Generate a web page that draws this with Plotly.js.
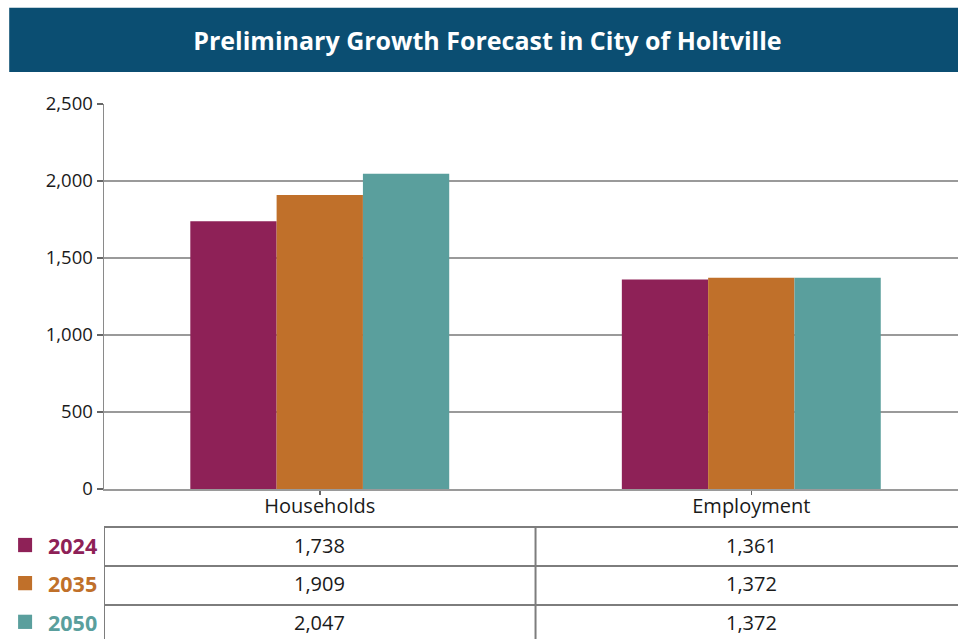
<!DOCTYPE html>
<html>
<head>
<meta charset="utf-8">
<script src="https://cdn.plot.ly/plotly-3.0.1.min.js"></script>
<style>
html,body{margin:0;padding:0;background:#fff;overflow:hidden;}
#chart{width:958px;height:639px;}
</style>
</head>
<body>
<div id="chart"></div>
<script>
const categories = ["Households", "Employment"];
const years = ["2024", "2035", "2050"];
const values2024 = [1738, 1361];
const values2035 = [1909, 1372];
const values2050 = [2047, 1372];
const colors = ["#8e2157", "#c0702a", "#5a9f9d"];
const yTickVals = [0, 500, 1000, 1500, 2000, 2500];
const titleText = "Preliminary Growth Forecast in City of Holtville";

const series = [values2024, values2035, values2050];
const FONT = "'Open Sans', 'Noto Sans', sans-serif";

const traces = series.map((vals, i) => ({
  type: "bar",
  name: years[i],
  x: categories,
  y: vals,
  marker: {color: colors[i], line: {width: 0}},
  hoverinfo: "none"
}));

// table layout (paper coordinates below the plot)
const rowLines = [-0.0987, -0.2, -0.301];
const rowCenters = [-0.1475, -0.2465, -0.347];
const rowHalf = 0.0185;

const shapes = [];
// title banner
shapes.push({type: "rect", xref: "paper", yref: "paper", x0: -0.111, x1: 1.01, y0: 1.083, y1: 1.25,
  fillcolor: "#0b4e72", line: {width: 0}, layer: "below"});
// table horizontal rules
rowLines.forEach(y => shapes.push({type: "line", xref: "paper", yref: "paper", x0: 0, x1: 1.01, y0: y, y1: y,
  line: {color: "#7d7d7d", width: 2}}));
// table vertical rules: left edge and category divider
[-0.5, 0.5].forEach(x => shapes.push({type: "line", xref: "x", yref: "paper", x0: x, x1: x, y0: rowLines[0], y1: -0.42,
  line: {color: "#7d7d7d", width: 2}}));
// legend squares
years.forEach((yr, i) => shapes.push({type: "rect", xref: "paper", yref: "paper",
  x0: -0.1006, x1: -0.0842, y0: rowCenters[i] + 0.002 - rowHalf, y1: rowCenters[i] + 0.002 + rowHalf,
  fillcolor: colors[i], line: {width: 0}}));

const annotations = [];
years.forEach((yr, i) => {
  annotations.push({xref: "paper", yref: "paper", x: -0.006, y: rowCenters[i], xanchor: "right", yanchor: "middle",
    text: "<b>" + yr + "</b>", showarrow: false, font: {family: FONT, size: 21.5, color: colors[i]}});
  categories.forEach((c, j) => {
    annotations.push({xref: "x", yref: "paper", x: c, y: rowCenters[i], xanchor: "center", yanchor: "middle",
      text: series[i][j].toLocaleString("en-US"), showarrow: false, font: {family: FONT, size: 20, color: "#1a1a1a"}});
  });
});

const layout = {
  width: 958, height: 639,
  margin: {l: 104, r: 0, t: 104, b: 150, pad: 0, autoexpand: false},
  paper_bgcolor: "#ffffff", plot_bgcolor: "#ffffff",
  showlegend: false,
  barmode: "group", bargap: 0.4, bargroupgap: 0,
  title: {text: "<b>" + titleText + "</b>", xref: "paper", x: 0.449, xanchor: "center",
    yref: "container", y: 0.935, yanchor: "middle",
    font: {family: FONT, size: 25, color: "#ffffff"}},
  font: {family: FONT, color: "#1a1a1a"},
  xaxis: {range: [-0.5, 1.479], showgrid: false, showline: true, linecolor: "#9a9a9a", linewidth: 1.5,
    ticks: "outside", ticklen: 4, tickcolor: "#666", tickwidth: 1.5, zeroline: false, ticklabelstandoff: -6,
    tickfont: {family: FONT, size: 20, color: "#1a1a1a"}, fixedrange: true},
  yaxis: {range: [0, 2500], tickvals: yTickVals, tickformat: ",", showgrid: true, gridcolor: "#9a9a9a", gridwidth: 1.5,
    showline: true, linecolor: "#8a8a8a", linewidth: 1.5, ticks: "outside", ticklen: 6, tickcolor: "#666", tickwidth: 1.5,
    zeroline: false, tickfont: {family: FONT, size: 18.5, color: "#1a1a1a"}, fixedrange: true},
  shapes: shapes,
  annotations: annotations
};

Plotly.newPlot("chart", traces, layout, {displayModeBar: false, staticPlot: true});
</script>
</body>
</html>
